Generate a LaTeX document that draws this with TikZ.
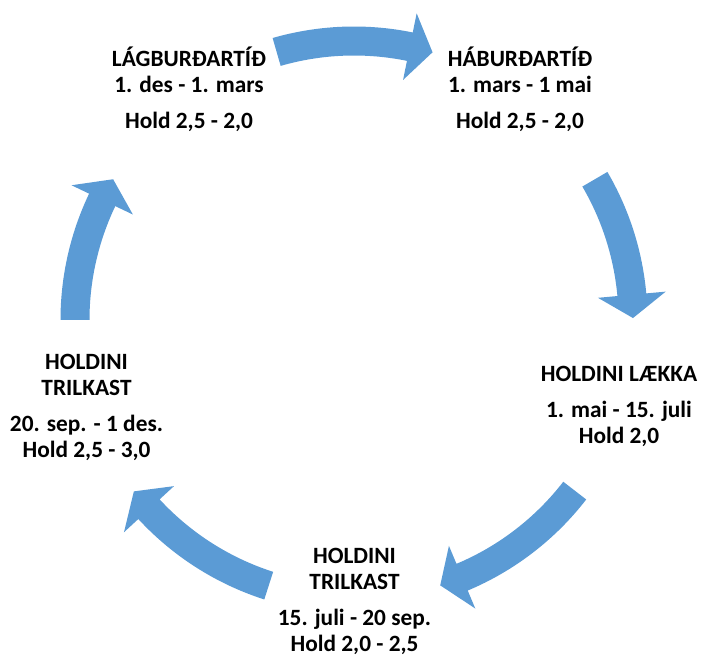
\documentclass[tikz,border=0pt]{standalone}
\usepackage{fontspec}
\setmainfont{Carlito}
\usetikzlibrary{calc}
\definecolor{cycleblue}{RGB}{91,155,213}
\tikzset{
  phase/.style={font=\fontsize{17.5}{19.5}\selectfont\bfseries, align=center, inner sep=0pt, anchor=base},
  cyclearrow/.style={fill=cycleblue, draw=none}
}

\begin{document}
\begin{tikzpicture}[x=0.75pt, y=0.75pt]
  \useasboundingbox (0,0) rectangle (703,654);
  \coordinate (c) at (354,334);

  % curved block arrows round the cycle: tail angle / tip angle
  \foreach \t/\p in {106.1/73.65, 30.3/0.4, -37.7/-72.0, -107.8/-142.1, 180/149.7}{
    \pgfmathsetmacro{\h}{\p+4.8}
    \fill[cyclearrow, shift={(c)}] (\t:293.5) arc[start angle=\t, end angle=\h, radius=293.5]
      -- (\h:313) -- (\p:279) -- (\h:245) -- (\h:264.5)
      arc[start angle=\h, end angle=\t, radius=264.5] -- cycle;
  }

  % base anchor sits on the last line
  \node[phase] (lag) at (189,525) {LÁGBURÐARTÍÐ\\1. des - 1. mars\\[7.5pt]Hold 2,5 - 2,0};
  \node[phase] (hab) at (520,525) {HÁBURÐARTÍÐ\\1. mars - 1 mai\\[7.5pt]Hold 2,5 - 2,0};
  \node[phase] (laekka) at (619,211) {HOLDINI LÆKKA\\[7.5pt]1. mai - 15. juli\\Hold 2,0};
  \node[phase] (trilsum) at (354.5,3) {HOLDINI\\TRILKAST\\[7.5pt]15. juli - 20 sep.\\Hold 2,0 - 2,5};
  \node[phase] (trilhaust) at (86.5,197) {HOLDINI\\TRILKAST\\[7.5pt]20. sep. - 1 des.\\Hold 2,5 - 3,0};
\end{tikzpicture}
\end{document}
